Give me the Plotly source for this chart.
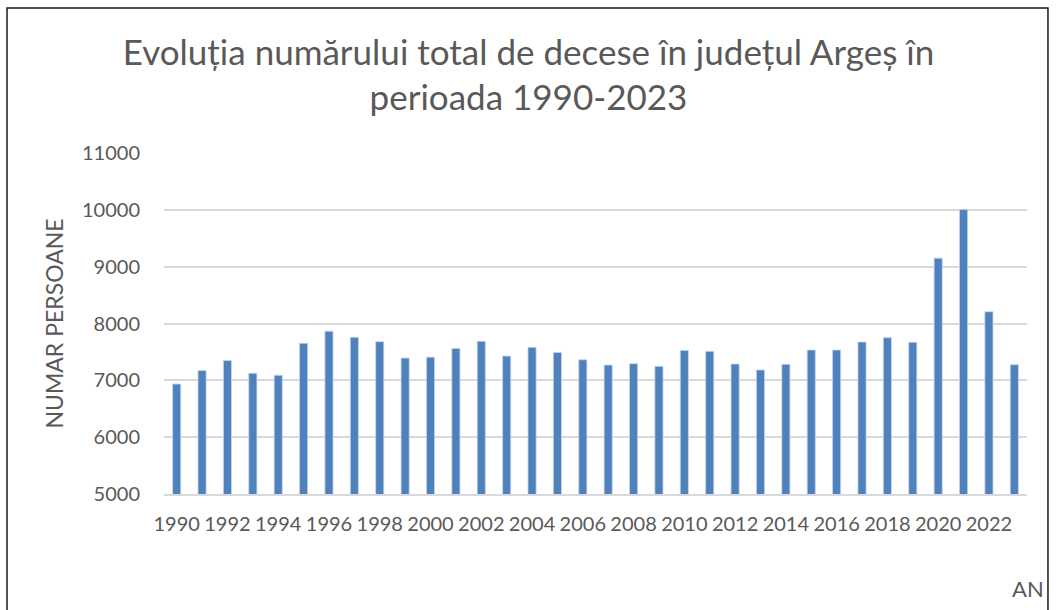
import plotly.graph_objects as go

years = [str(y) for y in range(1990, 2024)]
deaths = [6935, 7172, 7349, 7124, 7089, 7651, 7864, 7757, 7680, 7391,
          7408, 7562, 7686, 7426, 7580, 7491, 7362, 7269, 7293, 7246,
          7527, 7510, 7287, 7182, 7281, 7533, 7533, 7674, 7750, 7668,
          9150, 10005, 8207, 7275]
tick_labels = years[::2]
y_ticks = [5000, 6000, 7000, 8000, 9000, 10000, 11000]
y_tick_text = [str(v) for v in y_ticks]

title_text = "Evoluția numărului total de decese în județul Argeș în<br>perioada 1990-2023"
font_family = "Lato, 'Open Sans', sans-serif"
text_color = "#595959"

fig = go.Figure()
fig.add_trace(go.Bar(
    x=years, y=deaths,
    marker=dict(color="#4F81BD", line=dict(color="#C6D6EA", width=0.8)),
    width=0.32,
    hoverinfo="x+y",
))

fig.update_layout(
    width=1057, height=610,
    margin=dict(l=164, r=30, t=153, b=116),
    paper_bgcolor="white", plot_bgcolor="white",
    font=dict(family=font_family, color=text_color),
    showlegend=False,
    title=dict(text=title_text, x=0.5, xref="container", xanchor="center",
               y=0.894, yref="container", yanchor="top",
               font=dict(size=35, color=text_color, family=font_family)),
    xaxis=dict(type="category", tickmode="array", tickvals=tick_labels,
               ticktext=tick_labels, tickangle=0,
               tickfont=dict(size=20, color=text_color),
               showgrid=False, showline=True, linecolor="#D9D9D9", linewidth=1.5,
               ticks="", ticklabelstandoff=11, automargin=False),
    yaxis=dict(range=[5000, 11000], tickmode="array", tickvals=y_ticks,
               ticktext=y_tick_text,
               tickfont=dict(size=20, color=text_color),
               showgrid=True, gridcolor="#D9D9D9", gridwidth=1.5,
               zeroline=False, ticks="", ticklabelstandoff=23, automargin=False,
               title=dict(text="NUMAR PERSOANE", font=dict(size=23, color=text_color),
                          standoff=11)),
    bargap=0.68,
)

fig.add_annotation(text="AN", xref="paper", yref="paper", x=1.0015, y=-0.276,
                   xanchor="center", yanchor="middle", showarrow=False,
                   font=dict(size=22, color=text_color, family=font_family))

# chart frame
fig.add_shape(type="rect", xref="paper", yref="paper",
              x0=-0.1819, x1=1.0243, y0=-0.6, y1=1.425,
              line=dict(color="#1a1a1a", width=1.5), layer="above")

fig.write_html("out.html", config={"displayModeBar": False},
               post_script="document.body.style.margin='0';")
